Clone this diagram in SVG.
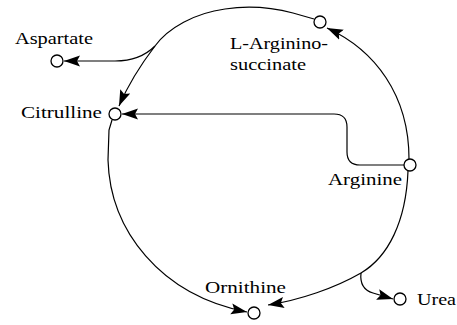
<svg xmlns="http://www.w3.org/2000/svg" width="457" height="325" viewBox="0 0 457 325">
<style>
.c{fill:#fff;stroke:#000;stroke-width:1.3}
.t{font-size:17px;fill:#000}
.e{fill:none;stroke:#000;stroke-width:1.2}
</style>
<defs>
<marker id="ah" markerUnits="userSpaceOnUse" markerWidth="17" markerHeight="12" refX="16" refY="6" orient="auto"><path d="M0,0.5 L16,6 L0,11.5 L3,6 z" fill="#000"/></marker>
</defs>
<rect width="457" height="325" fill="#fff"/>
<g id="connectors">
<path class="e" d="M409 159 C409 95 375 50 327 28" marker-end="url(#ah)"/>
<path class="e" d="M314 19 L293 13 C270 7 245 6 225 9 C195 13 168 28 155 46 C142 63 128 85 119 106" marker-end="url(#ah)"/>
<path class="e" d="M155 46 C145 56 130 61 115 61 L64 61" marker-end="url(#ah)"/>
<path class="e" d="M404 165 L360 165 Q347 165 347 152 L347 127 Q347 114 334 114 L122 114" marker-end="url(#ah)"/>
<path class="e" d="M112 120 L109 130 L108 160 C110 230 160 295 247 312" marker-end="url(#ah)"/>
<path class="e" d="M408 171 C406 222 388 257 361 273 C335 288 300 300 268 305" marker-end="url(#ah)"/>
<path class="e" d="M361 273 C360 282 363 290 373 293 L393 299" marker-end="url(#ah)"/>
</g>
<g font-family="Liberation Serif, serif">
<g id="argininosuccinate"><circle class="c" cx="320" cy="22" r="6"/><text class="t" x="230" y="49" textLength="98" lengthAdjust="spacingAndGlyphs">L-Arginino-</text><text class="t" x="230" y="70" textLength="76" lengthAdjust="spacingAndGlyphs">succinate</text></g>
<g id="aspartate"><circle class="c" cx="57" cy="61" r="6"/><text class="t" x="15" y="44" textLength="78" lengthAdjust="spacingAndGlyphs">Aspartate</text></g>
<g id="citrulline"><circle class="c" cx="115" cy="114" r="6"/><text class="t" x="21" y="118" textLength="81" lengthAdjust="spacingAndGlyphs">Citrulline</text></g>
<g id="arginine"><circle class="c" cx="410" cy="165" r="6"/><text class="t" x="328" y="185" textLength="74" lengthAdjust="spacingAndGlyphs">Arginine</text></g>
<g id="ornithine"><circle class="c" cx="254" cy="313" r="6"/><text class="t" x="205" y="293" textLength="81" lengthAdjust="spacingAndGlyphs">Ornithine</text></g>
<g id="urea"><circle class="c" cx="400" cy="299" r="6"/><text class="t" x="417" y="305" textLength="39" lengthAdjust="spacingAndGlyphs">Urea</text></g>
</g>
</svg>
